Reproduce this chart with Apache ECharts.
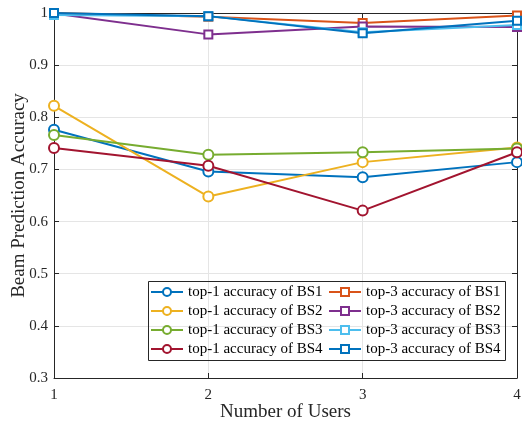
<!DOCTYPE html>
<html><head><meta charset="utf-8">
<script src="https://cdn.jsdelivr.net/npm/echarts@6/dist/echarts.min.js"></script>
<style>html,body{margin:0;padding:0;background:#fff}#c{width:522px;height:424px}</style>
</head><body><div id="c"></div>
<script>
const users = [1, 2, 3, 4];
const top1BS1 = [0.776, 0.696, 0.685, 0.714];
const top1BS2 = [0.822, 0.648, 0.714, 0.742];
const top1BS3 = [0.766, 0.728, 0.733, 0.740];
const top1BS4 = [0.741, 0.707, 0.621, 0.733];
const top3BS1 = [1.000, 0.993, 0.981, 0.995];
const top3BS2 = [0.999, 0.959, 0.974, 0.973];
const top3BS3 = [0.996, 0.994, 0.963, 0.977];
const top3BS4 = [1.000, 0.994, 0.961, 0.985];
const names = ['top-1 accuracy of BS1','top-1 accuracy of BS2','top-1 accuracy of BS3','top-1 accuracy of BS4',
  'top-3 accuracy of BS1','top-3 accuracy of BS2','top-3 accuracy of BS3','top-3 accuracy of BS4'];
const values = [top1BS1, top1BS2, top1BS3, top1BS4, top3BS1, top3BS2, top3BS3, top3BS4];
const colors = ['#0072BD','#EDB120','#77AC30','#A2142F','#D95319','#7E2F8E','#4DBEEE','#0072BD'];
const font = 'Liberation Serif, Times New Roman, serif';

const series = names.map((n, i) => ({
  name: n, type: 'line',
  data: users.map((u, j) => [u, values[i][j]]),
  symbol: i < 4 ? 'emptyCircle' : 'emptyRect',
  symbolSize: i < 4 ? 10 : 8,
  lineStyle: { width: 2, color: colors[i] },
  itemStyle: { color: colors[i], borderWidth: 1.6 },
  z: 2 + i
}));

const chart = echarts.init(document.getElementById('c'), null, { renderer: 'canvas' });
const axisLine = { show: true, lineStyle: { color: '#262626', width: 1 } };
chart.setOption({
  animation: false,
  backgroundColor: '#fff',
  textStyle: { fontFamily: font },
  grid: { left: 54, right: 5, top: 13, bottom: 46, containLabel: false, outerBoundsMode: 'none' },
  xAxis: [{
    type: 'value', min: 1, max: 4, interval: 1,
    name: 'Number of Users', nameLocation: 'middle', nameGap: 25, nameMoveOverlap: false,
    nameTextStyle: { fontSize: 19, color: '#262626', fontFamily: font },
    axisLine: axisLine,
    axisTick: { show: true, inside: true, length: 5, lineStyle: { color: '#262626' } },
    axisLabel: { fontSize: 15, color: '#262626', fontFamily: font, margin: 10 },
    splitLine: { show: true, lineStyle: { color: '#e5e5e5', width: 1 } }
  }, {
    type: 'value', min: 1, max: 4, interval: 1, position: 'top',
    axisLine: axisLine,
    axisTick: { show: true, inside: true, length: 5, lineStyle: { color: '#262626' } },
    axisLabel: { show: false }, splitLine: { show: false }
  }],
  yAxis: [{
    type: 'value', min: 0.3, max: 1, interval: 0.1,
    name: 'Beam Prediction Accuracy', nameLocation: 'middle', nameGap: 25, nameMoveOverlap: false,
    nameTextStyle: { fontSize: 19, color: '#262626', fontFamily: font },
    axisLine: axisLine,
    axisTick: { show: true, inside: true, length: 5, lineStyle: { color: '#262626' } },
    axisLabel: { fontSize: 15, color: '#262626', fontFamily: font, margin: 6,
      formatter: v => String(Math.round(v * 10) / 10) },
    splitLine: { show: true, lineStyle: { color: '#e5e5e5', width: 1 } }
  }, {
    type: 'value', min: 0.3, max: 1, interval: 0.1, position: 'right',
    axisLine: axisLine,
    axisTick: { show: true, inside: true, length: 5, lineStyle: { color: '#262626' } },
    axisLabel: { show: false }, splitLine: { show: false }
  }],
  legend: [{
    data: names.slice(0, 4), orient: 'vertical', left: 150, top: 284.5, padding: 0,
    itemWidth: 32, itemHeight: 10, itemGap: 4,
    textStyle: { fontSize: 15, color: '#000', fontFamily: font }
  }, {
    data: names.slice(4), orient: 'vertical', left: 328, top: 284.5, padding: 0,
    itemWidth: 32, itemHeight: 10, itemGap: 4,
    textStyle: { fontSize: 15, color: '#000', fontFamily: font }
  }],
  graphic: [{
    type: 'rect', left: 146, top: 279, z: 100, silent: true,
    shape: { width: 357, height: 79 },
    style: { fill: 'none', stroke: '#262626', lineWidth: 1 }
  }],
  series: series
});
</script></body></html>
